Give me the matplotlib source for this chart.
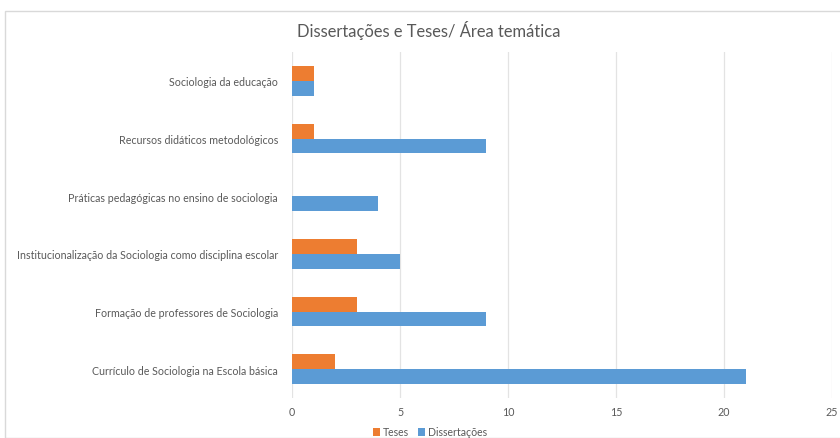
import matplotlib
matplotlib.use("Agg")
import matplotlib.pyplot as plt
import numpy as np
from matplotlib.patches import Rectangle

categories = [
    "Sociologia da educação",
    "Recursos didáticos metodológicos",
    "Práticas pedagógicas no ensino de sociologia",
    "Institucionalização da Sociologia como disciplina escolar",
    "Formação de professores de Sociologia",
    "Currículo de Sociologia na Escola básica",
]
teses = [1, 1, 0, 3, 3, 2]
dissertacoes = [1, 9, 4, 5, 9, 21]
xticks = [0, 5, 10, 15, 20, 25]

plt.rcParams['font.family'] = ['Lato', 'DejaVu Sans']

fig = plt.figure(figsize=(8.4, 4.39), dpi=100)
fig.patches.append(Rectangle((5/840, 0), 1.2, 1 - 12/439, transform=fig.transFigure,
                             fill=False, edgecolor='#D9D9D9', linewidth=1.0))

ax = fig.add_axes([292/840, 1 - 399/439, (832 - 292)/840, (399 - 53)/439])
n = len(categories)
y = np.arange(n)
h = 0.26
ax.barh(y - h/2, teses, height=h, color='#ED7D31', label='Teses', zorder=3)
ax.barh(y + h/2, dissertacoes, height=h, color='#5B9BD5', label='Dissertações', zorder=3)

ax.set_ylim(n - 0.5, -0.5)
ax.set_xlim(0, 25)
ax.set_xticks(xticks)
ax.set_xticklabels([str(t) for t in xticks])
ax.set_yticks(y)
ax.set_yticklabels(categories)
ax.grid(axis='x', color='#E3E3E3', linewidth=0.9, zorder=0)
for s in ax.spines.values():
    s.set_visible(False)
ax.tick_params(axis='both', length=0, labelsize=7.65, colors='#595959')
ax.tick_params(axis='y', pad=10)
ax.tick_params(axis='x', pad=6)

fig.text(429/840, 1 - 31/439, "Dissertações e Teses/ Área temática", ha='center', va='center',
         fontsize=11.9, color='#595959')

leg = fig.legend(loc='center', bbox_to_anchor=(430/840, 1 - 433/439), ncol=2, frameon=False,
                 fontsize=7.6, labelcolor='#595959', handlelength=0.7, handleheight=0.7,
                 handletextpad=0.3, columnspacing=0.8)

fig.savefig("out.png", dpi=100)
